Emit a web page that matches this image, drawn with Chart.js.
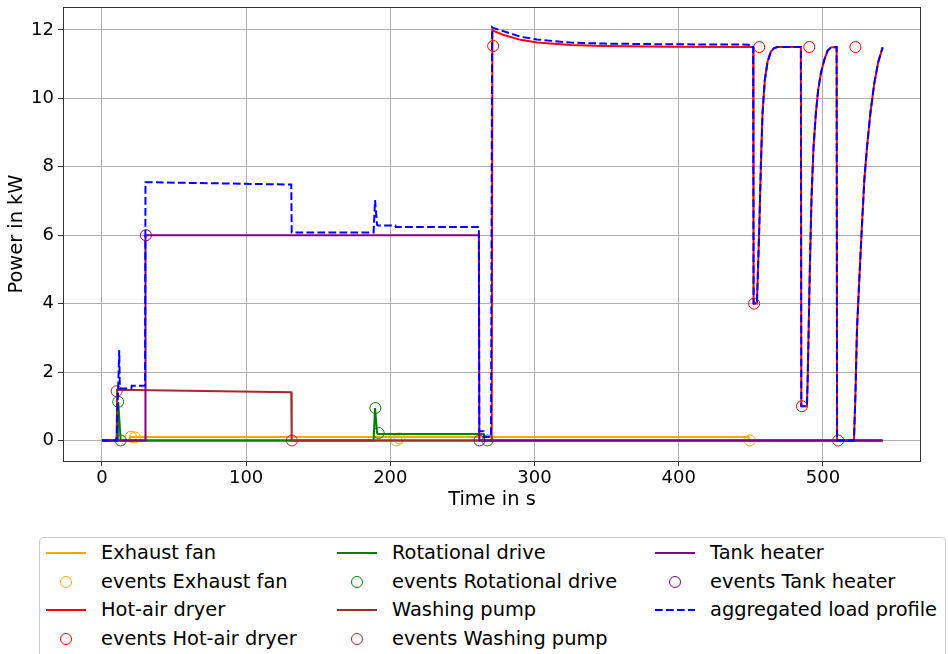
<!DOCTYPE html>
<html>
<head>
<meta charset="utf-8">
<script src="https://cdn.jsdelivr.net/npm/chart.js@4.4.1/dist/chart.umd.min.js"></script>
<style>
  html, body { margin: 0; padding: 0; background: #fff; overflow: hidden; }
  #wrap { position: relative; width: 948px; height: 654px; overflow: hidden; }
  #legend {
    position: absolute; left: 39px; top: 537px; width: 905px; height: 140px;
    border: 1px solid #cccccc; border-radius: 4px; background: #fff;
    font-family: "DejaVu Sans", sans-serif; font-size: 19.4px; color: #000;
  }
  .item { position: absolute; height: 28px; white-space: nowrap; }
  .item svg { position: absolute; left: 0; top: 0; }
  .item span { position: absolute; top: 0; line-height: 28px; }
</style>
</head>
<body>
<div id="wrap">
  <canvas id="myChart" width="948" height="654"></canvas>
  <div id="legend"></div>
</div>
<script>
'use strict';

/*          DATA          */
// tick labels
const xTicks = [0, 100, 200, 300, 400, 500];
const yTicks = [0, 2, 4, 6, 8, 10, 12];

// series names, in the order they were plotted
const seriesNames = ['Exhaust fan', 'Hot-air dryer', 'Rotational drive', 'Washing pump', 'Tank heater'];
const seriesColors = ['orange', 'red', 'green', 'brown', 'purple'];

// Exhaust fan
const efT = [0, 19.5, 19.6, 448.3, 448.6, 541.4];
const efP = [0, 0, 0.1, 0.1, 0, 0];
const efEvT = [20.1, 22.9, 204.2, 206.3, 449.3];
const efEvP = [0.11, 0.09, 0.0, 0.06, 0];

// Hot-air dryer
const hadT = [0, 270.3, 270.8, 271.3, 278.7, 290.3, 301.9, 325, 348, 394, 451.6, 451.9, 454.2, 455.1,
  455.8, 457, 458.1, 459.7, 461.6, 463.9, 466.2, 468.5, 484.7, 485.0, 488.9, 489.4, 490.1, 491, 492.1,
  493.5, 495.1, 496.7, 498.6, 500.9, 503.3, 505.6, 509.5, 509.8, 521.5, 522.5, 523.6, 525.2, 526.9,
  528.7, 530.6, 532.9, 535.6, 538.4, 541.4];
const hadP = [0, 0, 12.0, 11.98, 11.85, 11.71, 11.63, 11.56, 11.53, 11.51, 11.5, 4.0, 4.0, 5.19,
  6.16, 8.1, 9.57, 10.54, 11.07, 11.37, 11.47, 11.5, 11.5, 1.0, 1.0, 1.78, 3.24, 5.19, 7.13,
  8.59, 9.57, 10.25, 10.74, 11.12, 11.4, 11.49, 11.5, 0, 0, 1.29, 3.24, 4.7, 6.16,
  7.62, 8.59, 9.57, 10.44, 11.07, 11.49];
const hadEvT = [271.3, 452.3, 455.8, 485.4, 490.5, 510.6, 522.5];
const hadEvP = [11.53, 4.0, 11.5, 1.0, 11.5, 0, 11.5];

// Rotational drive
const rdT = [0, 11.0, 11.3, 13.0, 188.4, 189.4, 190.8, 191.5, 264.8, 265.3, 541.4];
const rdP = [0, 0, 1.13, 0, 0, 0.95, 0.22, 0.19, 0.19, 0, 0];
const rdEvT = [11.3, 13.0, 189.6, 191.9, 267.4];
const rdEvP = [1.13, 0, 0.95, 0.22, 0];

// Washing pump
const wpT = [0, 10.2, 10.5, 131.3, 131.6, 541.4];
const wpP = [0, 0, 1.48, 1.41, 0, 0];
const wpEvT = [10.2, 131.7];
const wpEvP = [1.44, 0];

// Tank heater
const thT = [0, 29.9, 30.2, 261.4, 261.7, 541.4];
const thP = [0, 0, 6.0, 6.0, 0, 0];
const thEvT = [30.5, 261.8];
const thEvP = [6.0, 0];

// aggregated load profile
const aggT = [0, 10.2, 12.0, 12.4, 20.4, 20.7, 29.9, 30.2, 131.3, 131.6, 188.4, 189.4, 190.8, 191.5,
  203.5, 203.8, 261.4, 261.7, 264.8, 265.2, 269.8, 270.6, 271.3, 290.3, 301.9, 325, 348, 394, 448.6,
  448.9, 451.6, 451.9, 454.2, 455.1, 455.8, 457, 458.1, 459.7, 461.6, 463.9, 466.2, 468.5, 484.7,
  485.0, 488.9, 489.4, 490.1, 491, 492.1, 493.5, 495.1, 496.7, 498.6, 500.9, 503.3, 505.6, 509.5,
  509.8, 521.5, 522.5, 523.6, 525.2, 526.9, 528.7, 530.6, 532.9, 535.6, 538.4, 541.4];
const aggP = [0, 0, 2.64, 1.52, 1.52, 1.6, 1.6, 7.55, 7.48, 6.08, 6.08, 7.03, 6.3, 6.28,
  6.28, 6.24, 6.24, 0.27, 0.27, 0.1, 0.1, 12.08, 12.06, 11.8, 11.72, 11.63, 11.6, 11.58, 11.57,
  11.5, 11.5, 4.0, 4.0, 5.19, 6.16, 8.1, 9.57, 10.54, 11.07, 11.37, 11.47, 11.5, 11.5,
  1.0, 1.0, 1.78, 3.24, 5.19, 7.13, 8.59, 9.57, 10.25, 10.74, 11.12, 11.4, 11.49, 11.5,
  0, 0, 1.29, 3.24, 4.7, 6.16, 7.62, 8.59, 9.57, 10.44, 11.07, 11.49];


/*          HELPERS          */
// pair up two arrays into chart.js {x, y} points
function toPoints(xs, ys) {
  return xs.map((x, i) => ({ x: x, y: ys[i] }));
}

// a solid line for one appliance
function lineSet(label, color, xs, ys, order) {
  return {
    label: label,
    data: toPoints(xs, ys),
    showLine: true,
    borderColor: color,
    backgroundColor: color,
    borderWidth: 2,
    pointRadius: 0,
    pointHoverRadius: 0,
    order: order,
    kind: 'line'
  };
}

// hollow circles for the events of one appliance
function eventSet(label, color, xs, ys, order) {
  return {
    label: label,
    data: toPoints(xs, ys),
    showLine: false,
    borderColor: color,
    backgroundColor: 'rgba(0,0,0,0)',
    pointBorderColor: color,
    pointBackgroundColor: 'rgba(0,0,0,0)',
    pointBorderWidth: 1,
    pointRadius: 5.5,
    order: order,
    kind: 'event'
  };
}

const lineXs = [efT, hadT, rdT, wpT, thT];
const lineYs = [efP, hadP, rdP, wpP, thP];
const evXs = [efEvT, hadEvT, rdEvT, wpEvT, thEvT];
const evYs = [efEvP, hadEvP, rdEvP, wpEvP, thEvP];

let datasets = [];
for (let i = 0; i < seriesNames.length; i++) {
  // higher order is drawn first, so later series end up on top
  datasets.push(lineSet(seriesNames[i], seriesColors[i], lineXs[i], lineYs[i], 20 - 2 * i));
  datasets.push(eventSet('events ' + seriesNames[i], seriesColors[i], evXs[i], evYs[i], 19 - 2 * i));
}
datasets.push({
  label: 'aggregated load profile',
  data: toPoints(aggT, aggP),
  showLine: true,
  borderColor: 'blue',
  backgroundColor: 'blue',
  borderWidth: 2,
  borderDash: [7.7, 3.3],
  pointRadius: 0,
  pointHoverRadius: 0,
  order: 1,
  kind: 'dashed'
});

// matplotlib style frame round the plot area
const framePlugin = {
  id: 'frame',
  afterDatasetsDraw(chart) {
    const a = chart.chartArea;
    const ctx = chart.ctx;
    ctx.save();
    ctx.strokeStyle = '#333';
    ctx.lineWidth = 1;
    ctx.strokeRect(Math.round(a.left) + 0.5, Math.round(a.top) + 0.5,
      Math.round(a.right - a.left) - 1, Math.round(a.bottom - a.top));
    ctx.restore();
  }
};

const tickFont = { family: 'DejaVu Sans', size: 18 };
const labelFont = { family: 'DejaVu Sans', size: 19.4 };

const config = {
  type: 'scatter',
  data: { datasets: datasets },
  options: {
    responsive: false,
    animation: false,
    devicePixelRatio: 1,
    layout: { padding: { left: 0, top: 7, right: 27, bottom: 141 } },
    plugins: {
      legend: { display: false },
      tooltip: { enabled: false }
    },
    scales: {
      x: {
        type: 'linear',
        min: -27,
        max: 568,
        afterBuildTicks: s => { s.ticks = xTicks.map(v => ({ value: v })); },
        afterFit: s => { s.height = 52; s.paddingLeft = 0; s.paddingRight = 0; },
        grid: { color: '#b0b0b0', lineWidth: 1, tickLength: 5, tickColor: '#333' },
        border: { display: false },
        ticks: { color: '#000', font: tickFont, padding: 2, maxRotation: 0 },
        title: { display: true, text: 'Time in s', color: '#000', font: labelFont, padding: { top: 0, bottom: 1 } }
      },
      y: {
        type: 'linear',
        min: -0.6,
        max: 12.67,
        afterBuildTicks: s => { s.ticks = yTicks.map(v => ({ value: v })); },
        afterFit: s => { s.width = 63; s.paddingTop = 0; s.paddingBottom = 0; },
        grid: { color: '#b0b0b0', lineWidth: 1, tickLength: 5, tickColor: '#333' },
        border: { display: false },
        ticks: { color: '#000', font: tickFont, padding: 4 },
        title: { display: true, text: 'Power in kW', color: '#000', font: labelFont, padding: { top: 5, bottom: 0 } }
      }
    }
  },
  plugins: [framePlugin]
};

const myChart = new Chart(document.getElementById('myChart'), config);


/*          LEGEND (4 rows, filled column by column)          */
const legendBox = document.getElementById('legend');
const colLeft = [6, 297, 615];
const rowTop = [1, 30, 58, 87];
myChart.data.datasets.forEach((ds, i) => {
  const col = Math.floor(i / 4);
  const row = i % 4;
  const item = document.createElement('div');
  item.className = 'item';
  item.style.left = colLeft[col] + 'px';
  item.style.top = rowTop[row] + 'px';
  let mark;
  if (ds.kind === 'event') {
    mark = `<circle cx="20" cy="14" r="5.5" fill="none" stroke="${ds.borderColor}" stroke-width="1"/>`;
  } else if (ds.kind === 'dashed') {
    mark = `<line x1="0" y1="14" x2="40" y2="14" stroke="${ds.borderColor}" stroke-width="2" stroke-dasharray="7.7 3.3"/>`;
  } else {
    mark = `<line x1="0" y1="14" x2="40" y2="14" stroke="${ds.borderColor}" stroke-width="2"/>`;
  }
  item.innerHTML = `<svg width="42" height="28">${mark}</svg><span style="left:55px">${ds.label}</span>`;
  legendBox.appendChild(item);
});
</script>
</body>
</html>
